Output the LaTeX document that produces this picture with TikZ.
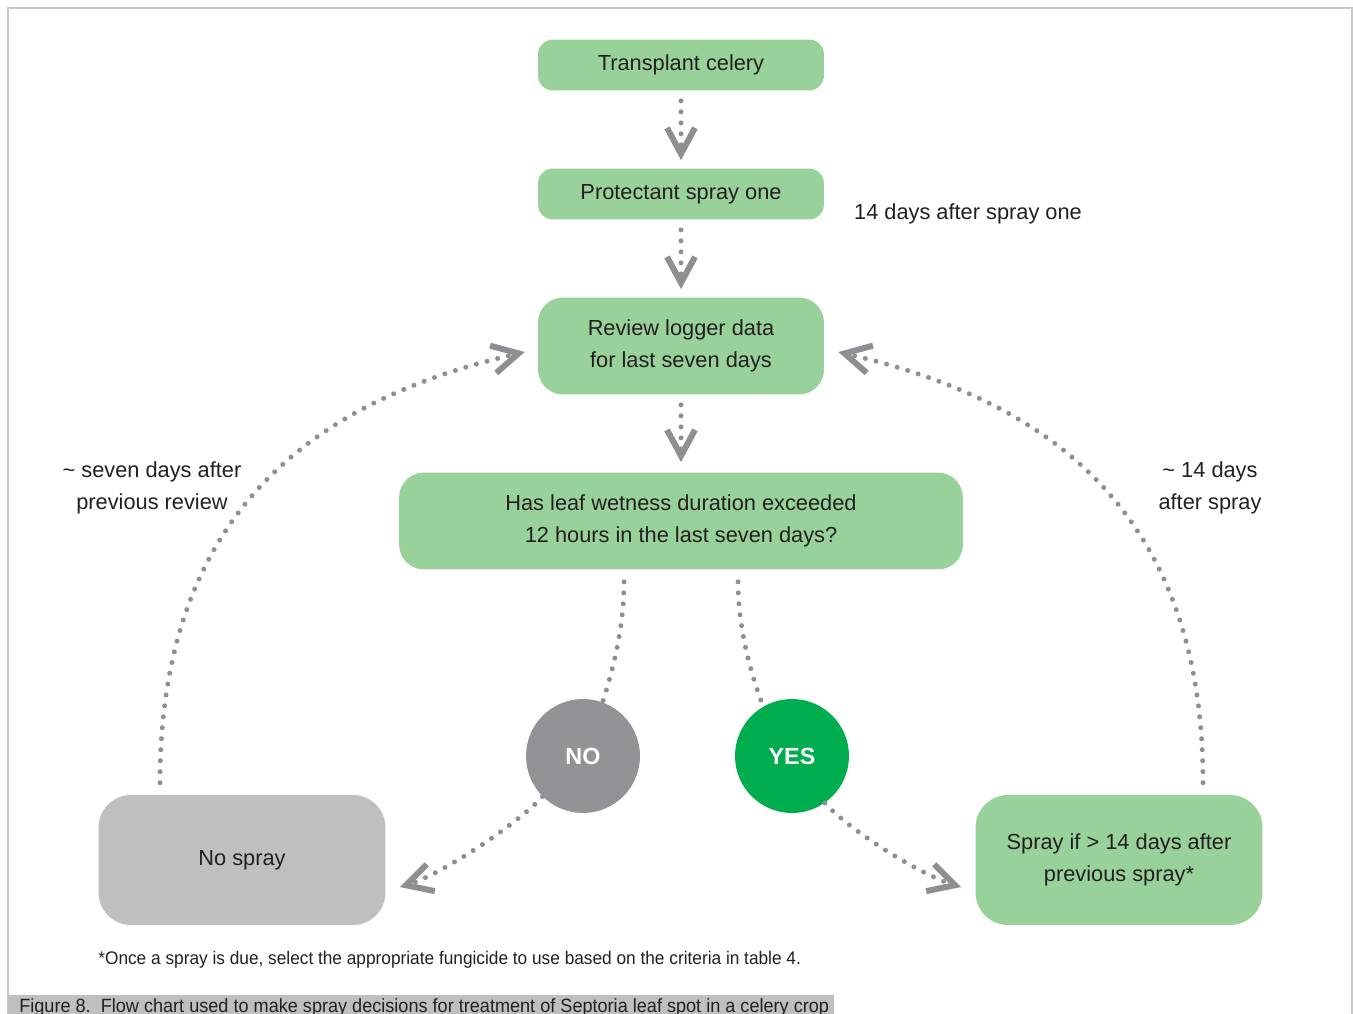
\documentclass[tikz,border=0pt]{standalone}
\usepackage{fontspec}
\setmainfont{Liberation Sans}
\newfontfamily\capfont[FakeStretch=0.945]{Liberation Sans}
\usetikzlibrary{arrows.meta,calc}
\definecolor{ink}{HTML}{231F20}
\definecolor{leaf}{HTML}{98D19A}
\definecolor{stone}{HTML}{BEBFC1}
\definecolor{nogrey}{HTML}{929397}
\definecolor{yesgreen}{HTML}{00AD4E}
\definecolor{dots}{HTML}{8E8F93}
\definecolor{frame}{HTML}{CACACA}
\definecolor{capbar}{HTML}{BFBFBF}
\newcommand{\chartfont}{\fontsize{12.4}{18.2}\selectfont}
\tikzset{
  base/.style={align=center, inner sep=0pt, font=\chartfont, text=ink},
  stepbox/.style={base, fill=leaf, minimum width=5.72cm, minimum height=1.02cm, rounded corners=0.3cm},
  tallbox/.style={stepbox, minimum height=1.94cm, rounded corners=0.5cm},
  endbox/.style={base, minimum width=5.74cm, minimum height=2.6cm, rounded corners=0.65cm},
  answer/.style={circle, minimum size=2.28cm, inner sep=0pt, text=white, font=\fontsize{13.3}{16}\selectfont\bfseries},
  lab/.style={base},
  dotline/.style={draw=dots, line width=0.1cm, line cap=round, dash pattern=on 0pt off 0.22cm},
  dotarr/.style={dotline, -{Straight Barb[length=0.52cm, width=0.56cm, line width=0.12cm]}},
}
\begin{document}
\begin{tikzpicture}[x=0.02cm, y=-0.02cm]
  \useasboundingbox (0,0) rectangle (1353,1014);
  % frame and caption strip
  \draw[draw=frame, line width=0.04cm] (8,1014) -- (8,8) -- (1352,8) -- (1352,1014);
  \fill[capbar] (8,995) rectangle (834,1014);
  \node[anchor=base west, inner sep=0pt, text=ink, font=\capfont\fontsize{10.9}{13}\selectfont] (caption) at (19,1012)
    {Figure 8.\ \ Flow chart used to make spray decisions for treatment of Septoria leaf spot in a celery crop};

  % boxes
  \node[stepbox] (transplant) at (681,65) {Transplant celery};
  \node[stepbox] (protect) at (681,194) {Protectant spray one};
  \node[tallbox] (review) at (681,346) {Review logger data\\for last seven days};
  \node[tallbox, minimum width=11.28cm] (question) at (681,521) {Has leaf wetness duration exceeded\\12 hours in the last seven days?};
  \node[answer, fill=nogrey] (no) at (583,756) {NO};
  \node[answer, fill=yesgreen] (yes) at (792,756) {YES};
  \node[endbox, fill=stone] (nospray) at (242,860) {No spray};
  \node[endbox, fill=leaf] (spray) at (1119,860) {Spray if > 14 days after\\previous spray*};

  % labels
  \node[lab] (firstlab) at (968,214) {14 days after spray one};
  \node[lab] (weeklab) at (152,488) {\textasciitilde\ seven days after\\previous review};
  \node[lab] (spraylab) at (1210,488) {\textasciitilde\ 14 days\\after spray};
  \node[anchor=west, inner sep=0pt, text=ink, font=\capfont\fontsize{10.4}{12}\selectfont] (note) at (98,960)
    {*Once a spray is due, select the appropriate fungicide to use based on the criteria in table 4.};

  % connectors
  \draw[dotarr, shorten <=0.2cm, shorten >=0.16cm] (transplant) -- (protect);
  \draw[dotarr, shorten <=0.2cm, shorten >=0.16cm] (protect) -- (review);
  \draw[dotarr, shorten <=0.2cm, shorten >=0.2cm] (review) -- (question);
  \draw[dotline] ($(question.south)+(-57,12)$) .. controls +(0,50) and +(8,-25) .. (no.70);
  \draw[dotline] ($(question.south)+(57,12)$) .. controls +(0,50) and +(-10,-25) .. (yes.120);
  \draw[dotarr] (no.-135) .. controls +(-25,28) and +(40,-12) .. ($(nospray.east)+(14,27)$);
  \draw[dotarr] (yes.-55) .. controls +(25,28) and +(-40,-12) .. ($(spray.west)+(-14,27)$);
  \draw[dotarr] ($(nospray.north)+(-82,-12)$) .. controls +(0,-283) and +(-195,45) .. ($(review.west)+(-13,6)$);
  \draw[dotarr] ($(spray.north)+(84,-12)$) .. controls +(0,-283) and +(195,45) .. ($(review.east)+(14,6)$);
\end{tikzpicture}
\end{document}
